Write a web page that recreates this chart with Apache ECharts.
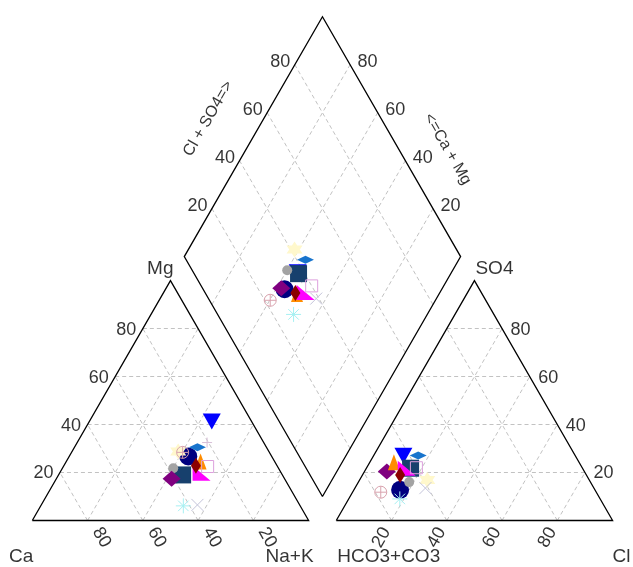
<!DOCTYPE html>
<html><head><meta charset="utf-8">
<script src="https://cdn.jsdelivr.net/npm/echarts@6/dist/echarts.min.js"></script>
<style>html,body{margin:0;padding:0;background:#fff}#c{width:633px;height:567px}</style>
</head><body><div id="c"></div>
<script>
// ---- data (percent of meq/L) ----
const sampleIds = ['S1','S15','S2','S3','S4','S5','S6','S7','S8','S9','S10','S11','S12','S13','S14'];
const caPct   = [14.4,20.5,30.2,36.1,38.1,40.9,26.8,28.9,29.4,25.0,32.8,31.4,25.3,42.3,37.0];
const mgPct   = [41.3,32.5,26.7,19.0,21.8,17.4,24.6,19.7,22.8,30.5,28.8,28.4,22.5, 6.1, 6.5];
const naPct   = [44.3,47.0,43.1,44.9,40.1,41.7,48.6,51.4,47.8,44.5,38.4,40.2,52.2,51.6,56.5];
const hco3Pct = [62.2,62.0,70.5,62.2,65.6,71.5,67.0,63.6,67.4,56.8,58.6,78.0,60.0,72.5,61.0];
const so4Pct  = [27.0,22.0,12.8,21.8,16.0,20.4,24.3,21.8,19.0,27.1,16.9,11.8,22.0, 9.0,13.5];
const clPct   = [10.8,16.0,16.7,16.0,18.4, 8.1, 8.7,14.6,13.6,16.1,24.5,10.2,18.0,18.5,25.5];
const tickValues = [20,40,60,80];

// ---- styles ----
const P_DOWN = 'path://M0,0L10,0L5,9Z';
const P_CORNER = 'path://M0,0L0,10L10,10Z';
const P_STAR6 = 'path://M5,0L9.33,7.5L0.67,7.5Z M5,10L0.67,2.5L9.33,2.5Z';
const P_CROSSHAIR = 'path://M0,5A5,5,0,1,1,10,5A5,5,0,1,1,0,5Z M5,0L5,10 M0,5L10,5';
const P_ASTER = 'path://M5,0L5,10M0,5L10,5M1.5,1.5L8.5,8.5M8.5,1.5L1.5,8.5';
const P_X = 'path://M0,0L10,10M10,0L0,10';
const P_PLUS = 'path://M5,0L5,10M0,5L10,5';
const markerStyles = [
  {symbol:P_DOWN, size:[18,16], color:'#0000FF'},
  {symbol:P_PLUS, size:10, color:'#D8BFD8', outline:true},
  {symbol:'circle', size:18, color:'#000080'},
  {symbol:'rect', size:17, color:'#17406D'},
  {symbol:'circle', size:10, color:'#A3A3A3'},
  {symbol:'diamond', size:[18,16], color:'#800080'},
  {symbol:'triangle', size:[12,16], color:'#FF8C00'},
  {symbol:P_CORNER, size:[18,15], color:'#FF00FF'},
  {symbol:'diamond', size:[10,16], color:'#8B0000'},
  {symbol:'diamond', size:[17,8], color:'#1874CD'},
  {symbol:P_STAR6, size:16, color:'#FFF8CC'},
  {symbol:P_CROSSHAIR, size:12, color:'#D9A3AE', outline:true},
  {symbol:'rect', size:12, color:'#DDA0DD', outline:true},
  {symbol:P_ASTER, size:15, color:'#A6F0F2', outline:true},
  {symbol:P_X, size:12, color:'#C4C4DA', outline:true}
];

// ---- geometry ----
const S = Math.sqrt(3)/2, GAP = 10;
const GRID = {left:32.3, right:20.4, top:8.05, bottom:46.5};
const XMAX = 210, YMAX = 185;
const PXX = (633-GRID.left-GRID.right)/XMAX, PXY = (567-GRID.top-GRID.bottom)/YMAX;
function cationXY(ca, mg, na){ const t=ca+mg+na; mg=mg/t*100; na=na/t*100; return [na+mg/2, mg*S]; }
function anionXY(h, so4, cl){ const t=h+so4+cl; so4=so4/t*100; cl=cl/t*100; return [100+GAP+cl+so4/2, so4*S]; }
function diamondXY(cat, an){ return [100+GAP/2+(an-cat)/2, S*(GAP+an+cat)]; }
function shift(pt, dx, dy){ return [pt[0]+dx/PXX, pt[1]-dy/PXY]; }

const gridSegs = [];
tickValues.forEach(p => {
  const q = 100-p;
  gridSegs.push([cationXY(q,p,0), cationXY(0,p,q)]);
  gridSegs.push([cationXY(q,0,p), cationXY(0,q,p)]);
  gridSegs.push([cationXY(p,0,q), cationXY(p,q,0)]);
  gridSegs.push([anionXY(q,p,0), anionXY(0,p,q)]);
  gridSegs.push([anionXY(q,0,p), anionXY(0,q,p)]);
  gridSegs.push([anionXY(p,0,q), anionXY(p,q,0)]);
  gridSegs.push([diamondXY(0,p), diamondXY(100,p)]);
  gridSegs.push([diamondXY(p,0), diamondXY(p,100)]);
});
const frames = [
  [cationXY(100,0,0), cationXY(0,0,100), cationXY(0,100,0), cationXY(100,0,0)],
  [anionXY(100,0,0), anionXY(0,0,100), anionXY(0,100,0), anionXY(100,0,0)],
  [diamondXY(0,0), diamondXY(0,100), diamondXY(100,100), diamondXY(100,0), diamondXY(0,0)]
];

const FONT = 'Liberation Sans';
function labelSeries(items, opts){
  return {type:'scatter', symbol:'circle', symbolSize:1, silent:true, z:5, clip:false,
    itemStyle:{color:'rgba(0,0,0,0)'}, emphasis:{disabled:true},
    label:Object.assign({show:true, formatter:'{b}', color:'#000', fontFamily:FONT, fontSize:18}, opts),
    data: items.map(it => ({name:it[0], value:it[1]}))};
}

const series = [];
series.push({type:'lines', coordinateSystem:'cartesian2d', silent:true, z:1, clip:false,
  lineStyle:{color:'#c2c2c2', width:1, type:[4,3], opacity:1},
  data: gridSegs.map(s => ({coords:s}))});
series.push({type:'lines', coordinateSystem:'cartesian2d', polyline:true, silent:true, z:2, clip:false,
  lineStyle:{color:'#000', width:1.3, opacity:1},
  data: frames.map(f => ({coords:f}))});

// tick labels
series.push(labelSeries(tickValues.map(p => [String(p), cationXY(100-p,p,0)]), {position:'left', distance:6, offset:[0,1]}));
series.push(labelSeries(tickValues.map(p => [String(p), shift(cationXY(p,0,100-p),14,17)]), {position:'inside', align:'center', verticalAlign:'middle', rotate:-60}));
series.push(labelSeries(tickValues.map(p => [String(p), shift(anionXY(100-p,0,p),-10,17)]), {position:'inside', align:'center', verticalAlign:'middle', rotate:60}));
series.push(labelSeries(tickValues.map(p => [String(p), anionXY(0,p,100-p)]), {position:'right', distance:8, offset:[0,1]}));
series.push(labelSeries(tickValues.map(p => [String(p), diamondXY(100,p)]), {position:'left', distance:4, offset:[0,-3]}));
series.push(labelSeries(tickValues.map(p => [String(p), diamondXY(p,100)]), {position:'right', distance:7, offset:[0,-3]}));
// axis titles
series.push(labelSeries([['Cl + SO4=>', shift(diamondXY(100,47.5),-41.6,-24)]], {position:'inside', align:'center', verticalAlign:'middle', rotate:60, fontSize:16}));
series.push(labelSeries([['<=Ca + Mg', shift(diamondXY(36,100),36.6,-21.2)]], {position:'inside', align:'center', verticalAlign:'middle', rotate:-60, fontSize:16}));
// corner labels
series.push(labelSeries([['Mg', shift(cationXY(0,100,0),3,-12)]], {position:'inside', align:'right', verticalAlign:'middle', fontSize:19}));
series.push(labelSeries([['SO4', shift(anionXY(0,100,0),1,-12)]], {position:'inside', align:'left', verticalAlign:'middle', fontSize:19}));
series.push(labelSeries([['Ca', shift(cationXY(100,0,0),1,36)]], {position:'inside', align:'right', verticalAlign:'middle', fontSize:19}));
series.push(labelSeries([['Na+K', shift(cationXY(0,0,100),5,36)]], {position:'inside', align:'right', verticalAlign:'middle', fontSize:19}));
series.push(labelSeries([['HCO3+CO3', shift(anionXY(100,0,0),1,36)]], {position:'inside', align:'left', verticalAlign:'middle', fontSize:19}));
series.push(labelSeries([['Cl', shift(anionXY(0,0,100),0,36)]], {position:'inside', align:'left', verticalAlign:'middle', fontSize:19}));

// samples
sampleIds.forEach((id, i) => {
  const st = markerStyles[i];
  const cat = cationXY(caPct[i], mgPct[i], naPct[i]);
  const an = anionXY(hco3Pct[i], so4Pct[i], clPct[i]);
  const dm = diamondXY(caPct[i]+mgPct[i], so4Pct[i]+clPct[i]);
  series.push({type:'scatter', name:id, symbol:st.symbol, symbolSize:st.size, z:10, clip:false,
    emphasis:{disabled:true},
    itemStyle: st.outline ? {color:'rgba(0,0,0,0)', borderColor:st.color, borderWidth:1, opacity:1}
                          : {color:st.color, opacity:1, borderWidth:0},
    data:[cat, an, dm]});
});

const chart = echarts.init(document.getElementById('c'), null, {renderer:'canvas'});
chart.setOption({
  animation:false,
  backgroundColor:'#ffffff',
  grid:{left:GRID.left, right:GRID.right, top:GRID.top, bottom:GRID.bottom, containLabel:false},
  xAxis:{type:'value', min:0, max:XMAX, show:false},
  yAxis:{type:'value', min:0, max:YMAX, show:false},
  series: series
});
</script></body></html>
